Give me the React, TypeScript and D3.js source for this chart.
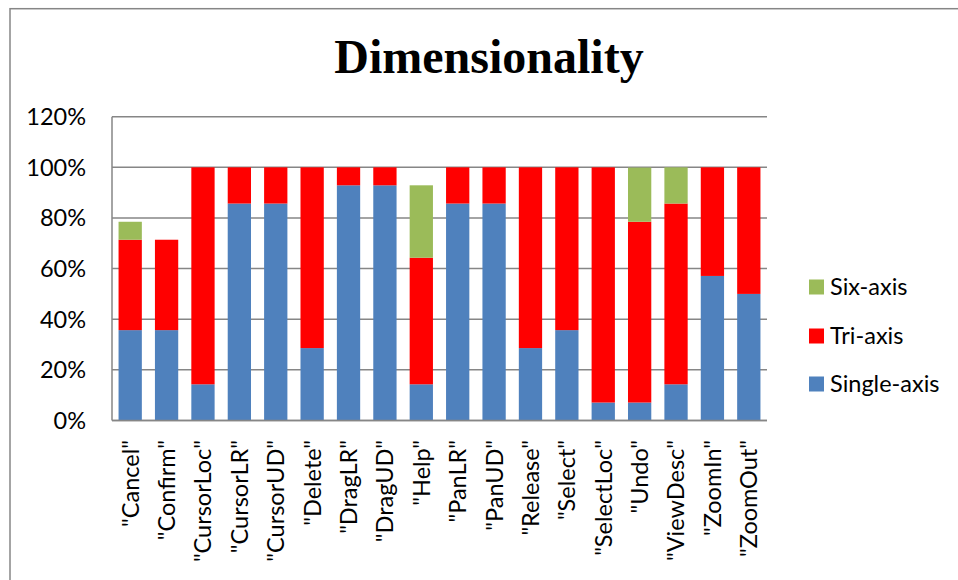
import React from "react";
import * as d3 from "d3";

// Gesture categories and the share of each sensing dimensionality (percent)
const categories = [
  '"Cancel"', '"Confirm"', '"CursorLoc"', '"CursorLR"', '"CursorUD"', '"Delete"',
  '"DragLR"', '"DragUD"', '"Help"', '"PanLR"', '"PanUD"', '"Release"',
  '"Select"', '"SelectLoc"', '"Undo"', '"ViewDesc"', '"ZoomIn"', '"ZoomOut"',
];
const singleAxis = [35.7, 35.7, 14.3, 85.7, 85.7, 28.6, 92.9, 92.9, 14.3, 85.7, 85.7, 28.6, 35.7, 7.1, 7.1, 14.3, 57.1, 50];
const triAxis = [35.7, 35.7, 85.7, 14.3, 14.3, 71.4, 7.1, 7.1, 50, 14.3, 14.3, 71.4, 64.3, 92.9, 71.4, 71.4, 42.9, 50];
const sixAxis = [7.1, 0, 0, 0, 0, 0, 0, 0, 28.6, 0, 0, 0, 0, 0, 21.4, 14.3, 0, 0];

const seriesNames = ["Single-axis", "Tri-axis", "Six-axis"];
const seriesColors = ["#4F81BD", "#FF0000", "#9BBB59"];
const yTicks = [0, 20, 40, 60, 80, 100, 120];

const W = 958;
const H = 580;
const plot = { left: 112, right: 767, top: 116.7, bottom: 420.5 };
const labelFont = "Lato, 'Open Sans', sans-serif";
const labelSize = 23.5;

export default function App() {
  const rows = categories.map((c, i) => ({
    cat: c,
    "Single-axis": singleAxis[i],
    "Tri-axis": triAxis[i],
    "Six-axis": sixAxis[i],
  }));
  const stacked = d3.stack<any>().keys(seriesNames)(rows);

  const x = d3
    .scaleBand<string>()
    .domain(categories)
    .range([plot.left, plot.right])
    .paddingInner(0.36)
    .paddingOuter(0.18);
  const y = d3.scaleLinear().domain([0, 120]).range([plot.bottom, plot.top]);

  const legendItems = [
    { name: "Six-axis", color: seriesColors[2], cy: 287 },
    { name: "Tri-axis", color: seriesColors[1], cy: 336 },
    { name: "Single-axis", color: seriesColors[0], cy: 384 },
  ];

  return (
    <svg
      width={W}
      height={H}
      style={{ position: "absolute", left: 0, top: 0, background: "#fff" }}
    >
      {/* chart frame */}
      <rect x={10} y={8.7} width={W + 10} height={H + 10} fill="#fff" stroke="#868686" strokeWidth={1.5} />

      <text
        x={489}
        y={73}
        textAnchor="middle"
        fontFamily="'Liberation Serif', 'Times New Roman', serif"
        fontWeight="bold"
        fontSize={48}
        fill="#000"
      >
        Dimensionality
      </text>

      {/* gridlines */}
      {yTicks.map((t) => (
        <line
          key={t}
          x1={plot.left}
          x2={plot.right}
          y1={y(t)}
          y2={y(t)}
          stroke="#868686"
          strokeWidth={1.5}
        />
      ))}
      {/* value axis line */}
      <line x1={plot.left} x2={plot.left} y1={plot.top} y2={plot.bottom} stroke="#868686" strokeWidth={1.5} />

      {/* y tick labels */}
      {yTicks.map((t) => (
        <text
          key={t}
          x={86}
          y={y(t)}
          dy="0.36em"
          textAnchor="end"
          fontFamily={labelFont}
          fontSize={labelSize}
          fill="#000"
        >
          {t}%
        </text>
      ))}

      {/* stacked bars */}
      {stacked.map((layer, si) => (
        <g key={layer.key} fill={seriesColors[si]}>
          {layer.map((d, i) =>
            d[1] - d[0] > 0 ? (
              <rect
                key={i}
                x={x(categories[i])}
                y={y(d[1])}
                width={x.bandwidth()}
                height={y(d[0]) - y(d[1])}
              />
            ) : null
          )}
        </g>
      ))}

      {/* category axis line */}
      <line x1={plot.left} x2={plot.right} y1={plot.bottom} y2={plot.bottom} stroke="#868686" strokeWidth={1.5} />

      {/* rotated category labels */}
      {categories.map((c) => {
        const cx = (x(c) as number) + x.bandwidth() / 2;
        return (
          <text
            key={c}
            transform={`translate(${cx},440) rotate(-90)`}
            textAnchor="end"
            dy="0.36em"
            fontFamily={labelFont}
            fontSize={labelSize}
            fill="#000"
          >
            {c}
          </text>
        );
      })}

      {/* legend */}
      {legendItems.map((it) => (
        <g key={it.name}>
          <rect x={809} y={it.cy - 7.5} width={15} height={15} fill={it.color} />
          <text x={830} y={it.cy} dy="0.36em" fontFamily={labelFont} fontSize={labelSize} fill="#000">
            {it.name}
          </text>
        </g>
      ))}
    </svg>
  );
}
